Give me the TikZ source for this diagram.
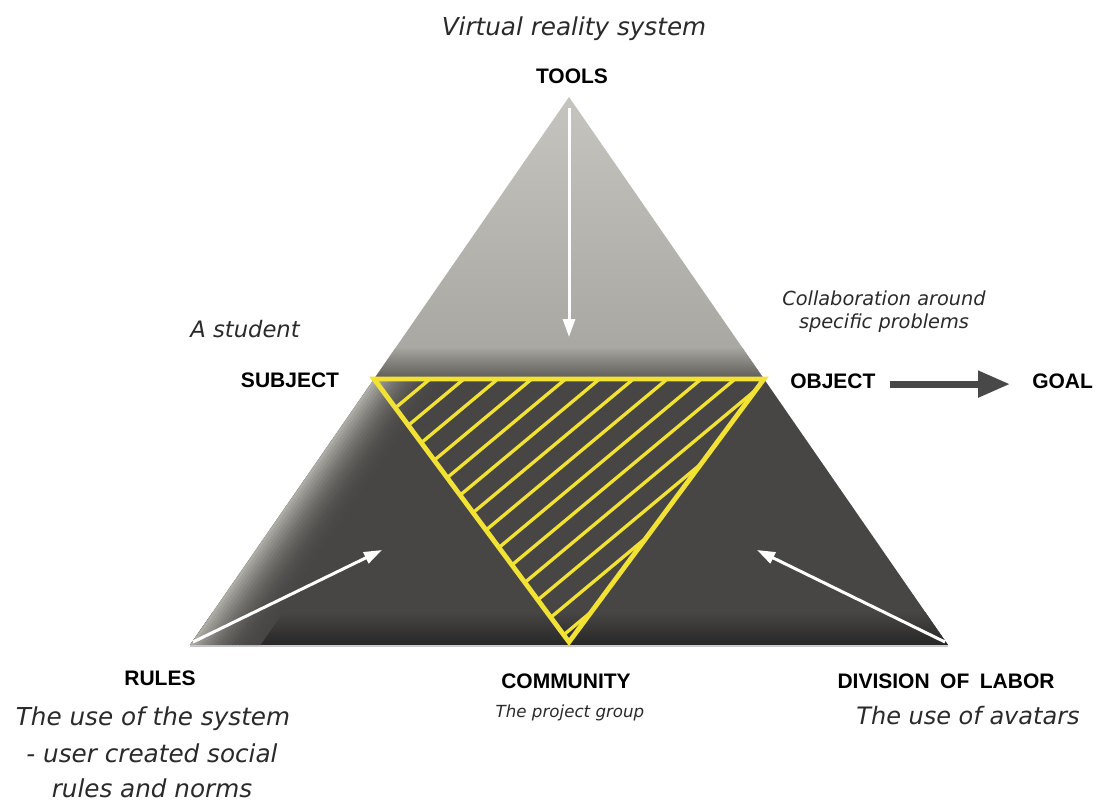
\documentclass[tikz,border=0pt]{standalone}
\usepackage{fontspec}
\setmainfont{Liberation Sans}
\newfontfamily\hand{DejaVu Sans}
\usetikzlibrary{arrows.meta,calc}
\definecolor{topL}{HTML}{C6C4BE}
\definecolor{topM}{HTML}{A6A49E}
\definecolor{topD}{HTML}{5A5854}
\definecolor{botD}{HTML}{484644}
\definecolor{botE}{HTML}{ADABA5}
\definecolor{baseD}{HTML}{262626}
\definecolor{yel}{HTML}{F2E234}
\definecolor{txtg}{HTML}{2A2A2A}
\definecolor{arrg}{HTML}{484848}
\tikzset{
  lbl/.style={font=\fontsize{15.75}{18}\selectfont\bfseries, inner sep=0pt, anchor=base, text=black},
  hndL/.style={font=\hand\itshape\fontsize{18.5}{22}\selectfont, inner sep=0pt, anchor=base, text=txtg},
  hndA/.style={font=\hand\itshape\fontsize{18}{22}\selectfont, inner sep=0pt, anchor=base, text=txtg},
  hndM/.style={font=\hand\itshape\fontsize{17}{20}\selectfont, inner sep=0pt, anchor=base, text=txtg},
  hndS/.style={font=\hand\itshape\fontsize{14.5}{17}\selectfont, inner sep=0pt, anchor=base, text=txtg},
  hndXS/.style={font=\hand\itshape\fontsize{12.5}{15}\selectfont, inner sep=0pt, anchor=base, text=txtg},
  warrow/.style={draw=white, line width=2.25pt, -{Triangle[length=13.5pt,width=9pt]}},
  bigarrow/.style={draw=arrg, line width=5.25pt, -{Triangle[length=24pt,width=19pt]}},
  yline/.style={draw=yel, line width=3.6pt, line join=miter},
  hatch/.style={draw=yel, line width=2.5pt}
}
\begin{document}
\begin{tikzpicture}[x=0.75pt,y=-0.75pt]
\useasboundingbox (0,0) rectangle (1097,801);
\fill[white] (0,0) rectangle (1097,801);
% geometry
\coordinate (A) at (569,97);
\coordinate (L) at (190,645);
\coordinate (R) at (948,645);
\coordinate (ML) at (374,379);
\coordinate (MR) at (764,379);
\coordinate (IB) at (569,642);
% top part
\shade[top color=topL, bottom color=topM] (A) -- (MR) -- (ML) -- cycle;
\begin{scope}
  \clip (A) -- (MR) -- (ML) -- cycle;
  \shade[top color=topM, bottom color=topD] (300,348) rectangle (840,380);
\end{scope}
% bottom part
\fill[botD] (ML) -- (MR) -- (R) -- (L) -- cycle;
\begin{scope}
  \clip (ML) -- (MR) -- (R) -- (L) -- cycle;
  \shade[top color=botD, bottom color=baseD] (150,612) rectangle (1000,646);
  \foreach \i in {0,...,19} {
    \pgfmathsetmacro\p{100*(1-\i/20)^2.2}
    \fill[botE!\p!botD] ($(ML)+(\i*3.5,0)$) -- ($(L)+(\i*3.5,0)$) -- ($(L)+(\i*3.5+4,0)$) -- ($(ML)+(\i*3.5+4,0)$) -- cycle;
  }
\end{scope}
\draw[black!22, line width=1pt] ([yshift=-1pt]L) -- ([yshift=-1pt]R);
% hatched inner triangle
\begin{scope}
  \clip (ML) -- (MR) -- (IB) -- cycle;
  \foreach \i in {0,...,13} {
    \draw[hatch] (430+33.9*\i,379) -- ++(-384,320);
  }
\end{scope}
\draw[yline] (ML) -- (MR) -- (IB) -- cycle;
% white arrows
\coordinate (t1) at (569,108);
\coordinate (t2) at (569,337);
\coordinate (l1) at (193,642);
\coordinate (l2) at (382,550);
\coordinate (r1) at (945,642);
\coordinate (r2) at (757,550);
\draw[warrow] (t1) -- (t2);
\draw[warrow] (l1) -- (l2);
\draw[warrow] (r1) -- (r2);
% labels
\node[hndL] (vr) at (574,35) {Virtual reality system};
\node[lbl] (tools) at (572,83) {TOOLS};
\node[hndM, anchor=base east] (stud) at (300,337) {A student};
\node[lbl] (subj) at (290,387) {SUBJECT};
\node[hndS] (coll1) at (884,305) {Collaboration around};
\node[hndS] (coll2) at (884,328) {specific problems};
\node[lbl, anchor=base west] (obj) at (790,388) {OBJECT};
\node[lbl, anchor=base west] (goal) at (1032,388) {GOAL};
\draw[bigarrow] ([xshift=10.5pt,yshift=-2.5pt]obj.east) -- ([xshift=-16.5pt,yshift=-2.5pt]goal.west);
\node[lbl] (rules) at (160,685) {RULES};
\node[hndL] (ru1) at (153,725) {The use of the system};
\node[hndL] (ru2) at (152,762) {- user created social};
\node[hndL] (ru3) at (152,797) {rules and norms};
\node[lbl] (comm) at (566,688) {COMMUNITY};
\node[hndXS] (commt) at (570,717) {The project group};
\node[lbl] (div) at (946,688) {DIVISION\hspace{0.5em}OF\hspace{0.5em}LABOR};
\node[hndA] (divt) at (968,724) {The use of avatars};
\end{tikzpicture}
\end{document}
